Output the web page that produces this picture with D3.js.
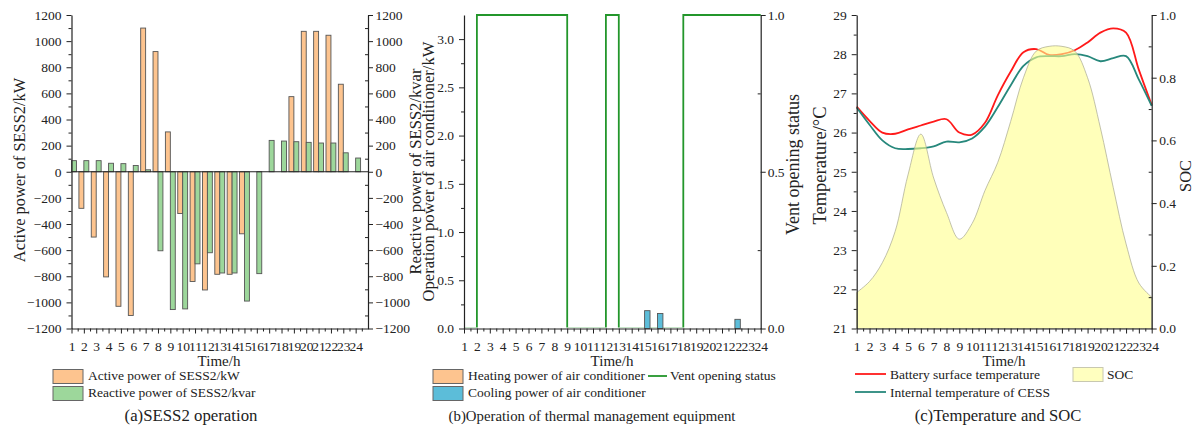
<!DOCTYPE html>
<html>
<head>
<meta charset="utf-8">
<script src="https://cdn.jsdelivr.net/npm/d3@7"></script>
<style>
  body { margin: 0; background: #fff; }
  svg { display: block; }
  text { font-family: "Liberation Serif", "Times New Roman", serif; fill: #222; }
</style>
</head>
<body>
<div id="chart"></div>
<script>
// hourly data
const hours = d3.range(1, 25);
const hourLabels = ["1","2","3","4","5","6","7","8","9","10","11","12","13","14","15","16","17","18","19","20","21","22","23","24"];

// (a) SESS2 operation
const activePower = [0, -280, -500, -805, -1030, -1100, 1100, 920, 305, -320, -840, -905, -785, -785, -475, 0, 0, 0, 575, 1075, 1075, 1045, 670, 0];
const reactivePower = [85, 85, 85, 65, 62, 48, 15, -605, -1055, -1050, -705, -620, -775, -775, -990, -780, 240, 235, 230, 225, 220, 220, 145, 105];
const powerTicks = [-1200, -1000, -800, -600, -400, -200, 0, 200, 400, 600, 800, 1000, 1200];

// (b) thermal management equipment
const heatingPower = [0, 0, 0, 0, 0, 0, 0, 0, 0, 0, 0, 0, 0, 0, 0, 0, 0, 0, 0, 0, 0, 0, 0, 0];
const coolingPower = [0, 0, 0, 0, 0, 0, 0, 0, 0, 0, 0, 0, 0, 0, 0.185, 0.155, 0, 0, 0, 0, 0, 0.095, 0, 0];
const ventStatus = [0, 1, 1, 1, 1, 1, 1, 1, 0, 0, 0, 1, 0, 0, 0, 0, 0, 1, 1, 1, 1, 1, 1, 1];
const acTicks = [0, 0.5, 1.0, 1.5, 2.0, 2.5, 3.0];
const ventTicks = [0, 0.5, 1.0];

// (c) temperature and SOC
const surfaceTemp = [26.66, 26.3, 26.0, 25.97, 26.08, 26.18, 26.28, 26.34, 26.0, 25.95, 26.25, 26.95, 27.55, 28.05, 28.13, 27.98, 28.0, 28.1, 28.3, 28.55, 28.66, 28.55, 27.6, 26.7];
const internalTemp = [26.64, 26.2, 25.8, 25.6, 25.58, 25.6, 25.65, 25.77, 25.75, 25.85, 26.15, 26.65, 27.2, 27.7, 27.92, 27.95, 27.95, 28.0, 27.95, 27.82, 27.9, 27.95, 27.35, 26.68];
const soc = [0.115, 0.15, 0.21, 0.31, 0.49, 0.62, 0.48, 0.37, 0.285, 0.335, 0.44, 0.53, 0.66, 0.80, 0.885, 0.9, 0.9, 0.885, 0.80, 0.64, 0.45, 0.27, 0.145, 0.10];
const tempTicks = [21, 22, 23, 24, 25, 26, 27, 28, 29];
const socTicks = [0, 0.2, 0.4, 0.6, 0.8, 1.0];

const orange = "#fdc48f", green = "#9dd79b", blue = "#5cbdd9";
const ventGreen = "#23962b", red = "#ff1a1a", teal = "#27887c";
const barStroke = "#555";

const svg = d3.select("#chart")
  .append("svg")
    .attr("width", 1202)
    .attr("height", 431);

const plotTop = 15, plotBottom = 328.5;

// axis helper: major ticks with labels + unlabelled minor ticks
function drawAxis(axisFn, scale, tr, majors, minors, fmt, pad, minorIn) {
  const g = svg.append("g").attr("transform", tr)
    .call(axisFn(scale).tickValues(majors).tickFormat(fmt).tickSize(5).tickSizeOuter(0).tickPadding(pad));
  g.attr("font-family", "Liberation Serif, Times New Roman, serif").attr("font-size", 13.5).attr("color", "#222");
  g.select(".domain").attr("stroke-width", 1.2);
  const m = svg.append("g").attr("transform", tr)
    .call(axisFn(scale).tickValues(minors).tickFormat(() => "").tickSize(minorIn ? -3 : 3).tickSizeOuter(0));
  m.attr("color", "#222");
  m.select(".domain").remove();
  return g;
}

function rotLabel(x, y, txt, size) {
  svg.append("text")
    .attr("transform", `translate(${x},${y}) rotate(-90)`)
    .attr("text-anchor", "middle")
    .attr("dy", "0.35em")
    .style("font-size", size + "px")
    .text(txt);
}

function label(x, y, txt, size, anchor) {
  svg.append("text")
    .attr("x", x).attr("y", y)
    .attr("text-anchor", anchor || "start")
    .style("font-size", size + "px")
    .text(txt);
}

function swatch(x, y, fill) {
  svg.append("rect").attr("x", x).attr("y", y).attr("width", 30).attr("height", 14)
    .attr("fill", fill).attr("stroke", "#666").attr("stroke-width", 1);
}

// ---------------- (a) ----------------
const xa = d3.scaleLinear().domain([1, 25]).range([71.5, 368]);
const ya = d3.scaleLinear().domain([-1200, 1200]).range([plotBottom, plotTop]);
const bwA = (xa(2) - xa(1)) * 0.4;

const barsA = svg.append("g");
barsA.selectAll("rect.act")
  .data(hours.map((h, i) => ({h, v: activePower[i]})).filter(d => d.v !== 0))
  .join("rect")
    .attr("x", d => xa(d.h) - bwA)
    .attr("y", d => ya(Math.max(0, d.v)))
    .attr("width", bwA)
    .attr("height", d => Math.abs(ya(d.v) - ya(0)))
    .attr("fill", orange).attr("stroke", barStroke).attr("stroke-width", 0.9);
barsA.selectAll("rect.rea")
  .data(hours.map((h, i) => ({h, v: reactivePower[i]})).filter(d => d.v !== 0))
  .join("rect")
    .attr("x", d => xa(d.h))
    .attr("y", d => ya(Math.max(0, d.v)))
    .attr("width", bwA)
    .attr("height", d => Math.abs(ya(d.v) - ya(0)))
    .attr("fill", green).attr("stroke", barStroke).attr("stroke-width", 0.9);

svg.append("line")
  .attr("x1", xa(1)).attr("x2", xa(25)).attr("y1", ya(0)).attr("y2", ya(0))
  .attr("stroke", "#222").attr("stroke-width", 1);

const minorA = d3.range(-1100, 1200, 200);
drawAxis(d3.axisLeft, ya, `translate(${xa(1)},0)`, powerTicks, minorA, d3.format("d"), 5);
drawAxis(d3.axisRight, ya, `translate(${xa(25)},0)`, powerTicks, minorA, d3.format("d"), 2.5, true);
drawAxis(d3.axisBottom, xa, `translate(0,${plotBottom})`, hours, hours.map(h => h + 0.5), (d, i) => hourLabels[i], 7.5);

rotLabel(19, 170, "Active power of SESS2/kW", 16.4);
label(219, 365.5, "Time/h", 15, "middle");
swatch(53, 369.5, orange);
swatch(53, 386.5, green);
label(88, 380, "Active power of SESS2/kW", 13.5);
label(88, 397, "Reactive power of SESS2/kvar", 13.5);
label(191, 421, "(a)SESS2 operation", 16.8, "middle");

// ---------------- (b) ----------------
const xb = d3.scaleLinear().domain([1, 24]).range([464, 760.7]);
const yb = d3.scaleLinear().domain([0, 3.25]).range([plotBottom, plotTop]);
const yv = d3.scaleLinear().domain([0, 1]).range([plotBottom, plotTop]);
const bwB = (xb(2) - xb(1)) * 0.42;

// keep the "closed" part of the vent line under the axis line
svg.append("clipPath").attr("id", "ventClip")
  .append("rect").attr("x", xb(1) - 2).attr("y", plotTop - 2)
  .attr("width", xb(24) - xb(1) + 4).attr("height", plotBottom - plotTop + 1.1);

svg.append("path")
  .datum(hours.map((h, i) => [h, ventStatus[i]]))
  .attr("clip-path", "url(#ventClip)")
  .attr("fill", "none")
  .attr("stroke", ventGreen)
  .attr("stroke-width", 1.8)
  .attr("d", d3.line().x(d => xb(d[0])).y(d => yv(d[1])).curve(d3.curveStepAfter));

const barsB = svg.append("g");
barsB.selectAll("rect.heat")
  .data(hours.map((h, i) => ({h, v: heatingPower[i]})).filter(d => d.v !== 0))
  .join("rect")
    .attr("x", d => xb(d.h) - bwB).attr("y", d => yb(d.v))
    .attr("width", bwB).attr("height", d => yb(0) - yb(d.v))
    .attr("fill", orange).attr("stroke", barStroke).attr("stroke-width", 0.9);
barsB.selectAll("rect.cool")
  .data(hours.map((h, i) => ({h, v: coolingPower[i]})).filter(d => d.v !== 0))
  .join("rect")
    .attr("x", d => xb(d.h)).attr("y", d => yb(d.v))
    .attr("width", bwB).attr("height", d => yb(0) - yb(d.v))
    .attr("fill", blue).attr("stroke", barStroke).attr("stroke-width", 0.9);

drawAxis(d3.axisLeft, yb, `translate(${xb(1)},0)`, acTicks, d3.range(0.25, 3.25, 0.5), d3.format(".1f"), 5);
drawAxis(d3.axisRight, yv, `translate(${xb(24)},0)`, ventTicks, [0.25, 0.75], d3.format(".1f"), 2, true);
drawAxis(d3.axisBottom, xb, `translate(0,${plotBottom})`, hours, hours.slice(0, 23).map(h => h + 0.5), (d, i) => hourLabels[i], 7.5);

rotLabel(415, 171.5, "Reactive power of SESS2/kvar", 16.6);
rotLabel(428, 171.5, "Operation power of air conditioner/kW", 16.6);
rotLabel(793, 164.5, "Vent opening status", 18);
label(612, 365.5, "Time/h", 15, "middle");
swatch(433, 369.5, orange);
swatch(433, 386.5, blue);
label(468, 380, "Heating power of air conditioner", 13.5);
label(468, 397, "Cooling power of air conditioner", 13.5);
svg.append("line").attr("x1", 648).attr("x2", 667).attr("y1", 376).attr("y2", 376)
  .attr("stroke", ventGreen).attr("stroke-width", 1.8);
label(670, 380, "Vent opening status", 13.5);
label(592, 421, "(b)Operation of thermal management equipment", 14.8, "middle");

// ---------------- (c) ----------------
const xc = d3.scaleLinear().domain([1, 24]).range([856.7, 1151.7]);
const yc = d3.scaleLinear().domain([21, 29]).range([plotBottom, plotTop]);
const ys = d3.scaleLinear().domain([0, 1]).range([plotBottom, plotTop]);
const smooth = d3.curveCatmullRom.alpha(0.5);

svg.append("path")
  .datum(surfaceTemp)
  .attr("fill", "none").attr("stroke", red).attr("stroke-width", 1.8)
  .attr("d", d3.line().x((d, i) => xc(hours[i])).y(d => yc(d)).curve(smooth));
svg.append("path")
  .datum(internalTemp)
  .attr("fill", "none").attr("stroke", teal).attr("stroke-width", 1.8)
  .attr("d", d3.line().x((d, i) => xc(hours[i])).y(d => yc(d)).curve(smooth));

// SOC area sits over the lines, semi-transparent
svg.append("path")
  .datum(soc)
  .attr("fill", "#ffff8c").attr("fill-opacity", 0.6)
  .attr("stroke", "#a8a890").attr("stroke-width", 0.7)
  .attr("d", d3.area().x((d, i) => xc(hours[i])).y0(ys(0)).y1(d => ys(d)).curve(smooth));

drawAxis(d3.axisLeft, yc, `translate(${xc(1)},0)`, tempTicks, d3.range(21.5, 29, 1), d3.format("d"), 5);
drawAxis(d3.axisRight, ys, `translate(${xc(24)},0)`, socTicks, d3.range(0.1, 1, 0.2), d3.format(".1f"), 2.5, true);
drawAxis(d3.axisBottom, xc, `translate(0,${plotBottom})`, hours, hours.slice(0, 23).map(h => h + 0.5), (d, i) => hourLabels[i], 7.5);

rotLabel(820, 165.5, "Temperature/°C", 18.5);
rotLabel(1185, 176, "SOC", 16.4);
label(1004, 365.5, "Time/h", 15, "middle");
svg.append("line").attr("x1", 855).attr("x2", 886).attr("y1", 374).attr("y2", 374)
  .attr("stroke", red).attr("stroke-width", 1.8);
svg.append("line").attr("x1", 855).attr("x2", 886).attr("y1", 392).attr("y2", 392)
  .attr("stroke", teal).attr("stroke-width", 1.8);
label(890, 379, "Battery surface temperature", 13.5);
label(890, 397, "Internal temperature of CESS", 13.5);
svg.append("rect").attr("x", 1073).attr("y", 367.5).attr("width", 30).attr("height", 14)
  .attr("fill", "#ffffbf").attr("stroke", "#c8c8b0").attr("stroke-width", 1);
label(1107, 379, "SOC", 13.5);
label(998, 421, "(c)Temperature and SOC", 16.6, "middle");
</script>
</body>
</html>
